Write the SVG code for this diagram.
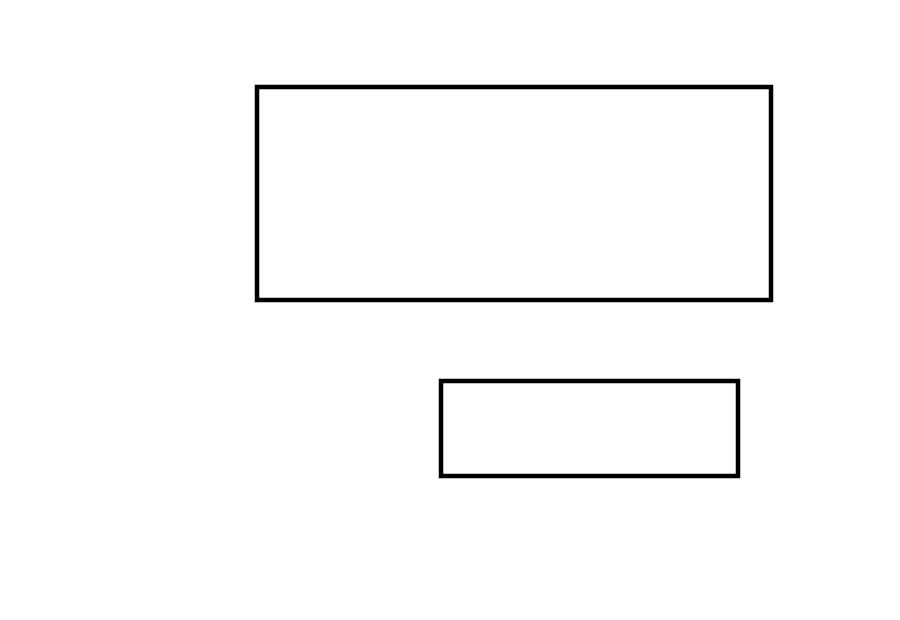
<svg xmlns="http://www.w3.org/2000/svg" width="900" height="620" viewBox="0 0 900 620">
<style>
.box{fill:#fff;stroke:#000;stroke-width:4.5}
</style>
<rect width="900" height="620" fill="#fff"/>
<g id="node1"><rect class="box" x="257" y="87" width="514" height="213"/></g>
<g id="node2"><rect class="box" x="441" y="381" width="297" height="95"/></g>
<g id="connectors"></g>
</svg>
